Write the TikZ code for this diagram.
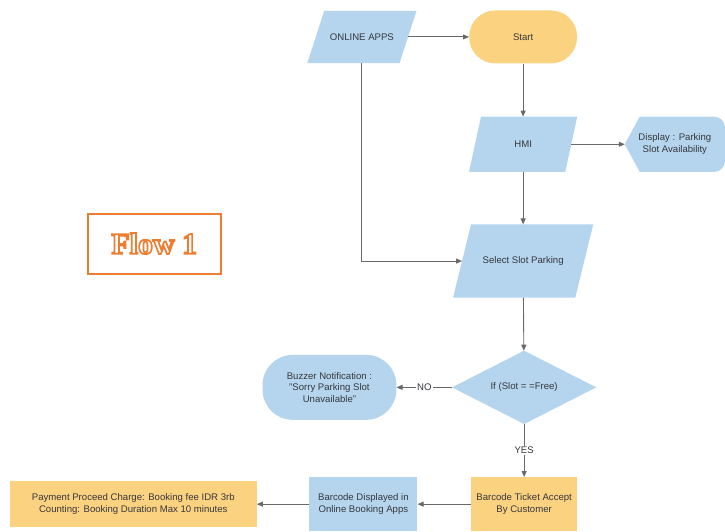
\documentclass[tikz,border=0pt]{standalone}
\usepackage{fontspec}
\setmainfont{Liberation Sans}
\newfontfamily\flowfont{Liberation Serif}
\usetikzlibrary{arrows.meta,backgrounds}
\definecolor{bluef}{RGB}{180,213,237}
\definecolor{orf}{RGB}{250,210,128}
\definecolor{lnc}{RGB}{105,105,105}
\definecolor{txc}{RGB}{55,55,60}
\definecolor{flowc}{RGB}{237,125,49}
\newcommand\outlinetext[1]{\leavevmode\textcolor{white}{%
  \special{pdf:literal direct 2 Tr 1.7 w 0.929 0.490 0.192 RG}#1%
  \special{pdf:literal direct 0 Tr}}}
\begin{document}
\begin{tikzpicture}[x=1pt,y=-1pt,
  box/.style={draw=none, inner sep=1pt, align=center, text=txc,
    font=\fontsize{9.6}{11.8}\selectfont},
  conn/.style={draw=lnc, line width=0.9pt, -{Triangle[length=6pt,width=5pt]}},
  lab/.style={fill=white, inner sep=1.5pt, text=txc, font=\fontsize{9.6}{11}\selectfont}]
% nodes
\node[box, minimum width=92, minimum height=52] (online) at (362.5,37) {ONLINE APPS};
\node[box, minimum width=108, minimum height=53, fill=orf, rounded corners=26] (start) at (524,37) {Start};
\node[box, minimum width=96, minimum height=55] (hmi) at (524,144.5) {HMI};
\node[box, minimum width=100, minimum height=55] (disp) at (676,144.5) {Display : Parking\\Slot Availability};
\node[box, minimum width=122, minimum height=73] (sel) at (524,261.5) {Select Slot Parking};
\node[box, minimum width=144, minimum height=73] (dec) at (525,388) {If (Slot = =Free)};
\node[box, minimum width=134, minimum height=65, fill=bluef, rounded corners=30] (buz) at (330,388) {Buzzer Notification :\\"Sorry Parking Slot\\Unavailable"};
\node[box, minimum width=106, minimum height=54, fill=orf] (tick) at (525,505) {Barcode Ticket Accept\\By Customer};
\node[box, minimum width=108, minimum height=54, fill=bluef] (bdisp) at (364,505) {Barcode Displayed in\\Online Booking Apps};
\node[box, minimum width=247, minimum height=46, fill=orf] (pay) at (133.5,505) {Payment Proceed Charge: Booking fee IDR 3rb\\Counting: Booking Duration Max 10 minutes};
\node[draw=flowc, line width=2pt, minimum width=133, minimum height=60, inner sep=0pt,
  font=\flowfont\bfseries\fontsize{30}{32}\selectfont] (flow) at (154.5,244) {\outlinetext{Flow 1}};
% shapes behind
\begin{pgfonlayer}{background}
\fill[white] (0,0) rectangle (725,527);
\fill[bluef] ([xshift=-8.5pt]online.south west) -- ([xshift=-8.5pt]online.south east)
  -- ([xshift=8.5pt]online.north east) -- ([xshift=8.5pt]online.north west) -- cycle;
\fill[bluef] ([xshift=-6pt]hmi.south west) -- ([xshift=-6pt]hmi.south east)
  -- ([xshift=6pt]hmi.north east) -- ([xshift=6pt]hmi.north west) -- cycle;
\fill[bluef] ([xshift=-9pt]sel.south west) -- ([xshift=-9pt]sel.south east)
  -- ([xshift=9pt]sel.north east) -- ([xshift=9pt]sel.north west) -- cycle;
\fill[bluef] (disp.west) -- ([xshift=15pt]disp.north west) -- ([xshift=-11pt]disp.north east)
  to[out=0,in=90] ([yshift=-11pt]disp.north east) -- ([yshift=11pt]disp.south east)
  to[out=-90,in=0] ([xshift=-11pt]disp.south east) -- ([xshift=15pt]disp.south west) -- cycle;
\fill[bluef] (dec.west) -- (dec.north) -- (dec.east) -- (dec.south) -- cycle;
\end{pgfonlayer}
\useasboundingbox (0,0) rectangle (725,527);
% connectors
\draw[conn] (online) -- (start);
\draw[conn] (start) -- (hmi);
\draw[conn] (hmi) -- (disp.west);
\draw[conn] (hmi) -- (sel);
\draw[conn] (online) |- (sel);
\draw[conn] (sel) -- (dec);
\draw[conn] (dec.west) -- node[lab] {NO} (buz);
\draw[conn] (dec.south) -- node[lab] {YES} (tick);
\draw[conn] (tick) -- (bdisp);
\draw[conn] (bdisp) -- (pay);
\end{tikzpicture}
\end{document}
